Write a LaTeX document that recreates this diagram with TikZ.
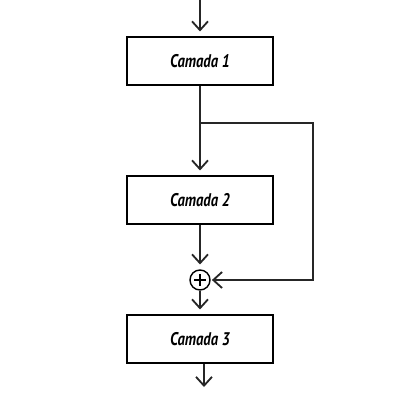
\documentclass[tikz,border=0pt]{standalone}
\usepackage{fontspec}
\setmainfont{PT Sans}
\usetikzlibrary{calc,arrows.meta}

\begin{document}
\begin{tikzpicture}[x=0.025cm,y=-0.025cm,
        camada/.style={draw,line width=1pt,minimum width=3.65cm,minimum height=1.2cm,
            font=\fontsize{13}{15}\selectfont\bfseries\itshape},
        seta/.style={line width=1.5pt,draw=black!85,-{Straight Barb[length=2.2mm,width=4mm,line width=1.3pt]},shorten >=1.2mm}]
        \useasboundingbox (0,0) rectangle (400,400);
        \node[camada] (C1) at (200,61) {\scalebox{0.8}[1]{Camada 1}};
        \node[camada] (C2) at (200,200) {\scalebox{0.8}[1]{Camada 2}};
        \node[camada] (C3) at (200,339) {\scalebox{0.8}[1]{Camada 3}};
        \node[draw,circle,line width=1pt,minimum size=0.5cm,inner sep=0pt] (S) at (200,280) {};
        \draw[line width=1pt] ($(S.center)+(-6,0)$)--($(S.center)+(6,0)$);
        \draw[line width=1pt] ($(S.center)+(0,-6)$)--($(S.center)+(0,6)$);
        \coordinate (IN) at (200,0);
        \coordinate (OUT) at (204,387);
        \coordinate (B) at (200,123);
        \draw[seta] (IN)--(C1.north);
        \draw[seta] (C1.south)--(C2.north);
        \draw[seta] (C2.south)--(S.north);
        \draw[seta] (S.south)--(C3.north);
        \draw[seta,shorten >=0pt] ($(C3.south)+(4,0)$)--(OUT);
        \draw[seta,shorten >=0.3mm] (B)--(313,123)--(313,280)--(S.east);
    \end{tikzpicture}
\end{document}
